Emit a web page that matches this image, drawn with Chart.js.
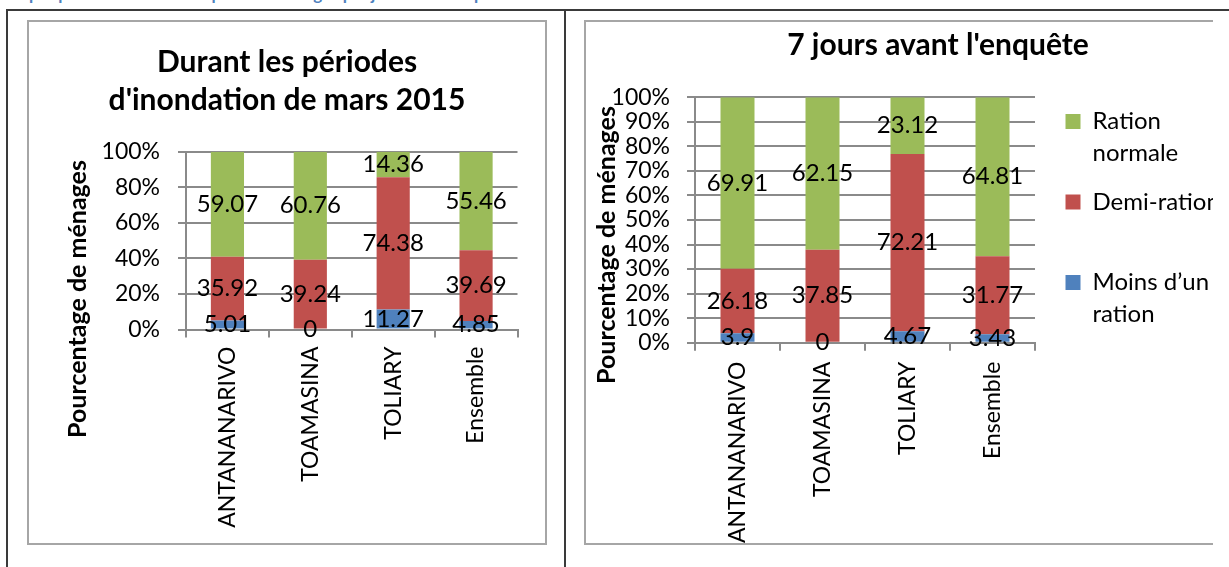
<!DOCTYPE html>
<html>
<head>
<meta charset="utf-8">
<script src="https://cdn.jsdelivr.net/npm/chart.js@4.4.1/dist/chart.umd.min.js"></script>
<style>
  html, body { margin: 0; padding: 0; background: #fff; }
  body { width: 1229px; height: 567px; overflow: hidden; position: relative; font-family: Lato, sans-serif; }
  .caption { position: absolute; left: 2px; top: -16px; font: bold 17px/1.2 Lato; color: #4F81BD; white-space: nowrap; }
  .hline { position: absolute; left: 6px; top: 9px; width: 1223px; height: 2px; background: #3a3a3a; }
  .vline { position: absolute; top: 9px; width: 2px; height: 558px; background: #3a3a3a; }
  #box1 { position: absolute; left: 27px; top: 20px; width: 520px; height: 525px; border: 2px solid #a6a6a6; box-sizing: border-box; }
  #box2 { position: absolute; left: 584px; top: 20px; width: 629px; height: 525px; border: 2px solid #a6a6a6; border-right: none; box-sizing: border-box; }
  #c1 { position: absolute; left: 28px; top: 21px; }
  #wrap2 { position: absolute; left: 585px; top: 21px; width: 628px; height: 523px; overflow: hidden; }
  #c2 { position: absolute; left: 0; top: 0; }
</style>
</head>
<body>
<div class="caption">Graphique 9 : Nombre de repas des ménages par jour selon les périodes</div>
<div class="hline"></div>
<div class="vline" style="left:6px"></div>
<div class="vline" style="left:564px"></div>
<div id="box1"></div>
<div id="box2"></div>
<canvas id="c1" width="518" height="523"></canvas>
<div id="wrap2"><canvas id="c2" width="706" height="523"></canvas></div>
<script>
var categories = ["ANTANANARIVO", "TOAMASINA", "TOLIARY", "Ensemble"];
var seriesNames = ["Moins d\u2019un ration", "Demi-ration", "Ration normale"];
var legendLines = [["Moins d\u2019un", "ration"], ["Demi-ration", ""], ["Ration", "normale"]];
var seriesColors = ["#4F81BD", "#C0504D", "#9BBB59"];

// Durant les périodes d'inondation de mars 2015
var moinsInondation = [5.01, 0, 11.27, 4.85];
var demiInondation = [35.92, 39.24, 74.38, 39.69];
var normaleInondation = [59.07, 60.76, 14.36, 55.46];

// 7 jours avant l'enquête
var moins7Jours = [3.9, 0, 4.67, 3.43];
var demi7Jours = [26.18, 37.85, 72.21, 31.77];
var normale7Jours = [69.91, 62.15, 23.12, 64.81];

var yStepInondation = 20;
var yStep7Jours = 10;

var gridColor = "#8a8a8a";

// values written in the middle of each segment
var valueLabels = {
  id: "valueLabels",
  afterDatasetsDraw: function (chart) {
    var ctx = chart.ctx;
    ctx.save();
    ctx.font = "24px Lato";
    ctx.fillStyle = "#000";
    ctx.textAlign = "center";
    ctx.textBaseline = "middle";
    chart.data.datasets.forEach(function (ds, i) {
      chart.getDatasetMeta(i).data.forEach(function (bar, j) {
        var p = bar.getProps(["x", "y", "base"], true);
        ctx.fillText(String(ds.data[j]), p.x, (p.y + p.base) / 2);
      });
    });
    ctx.restore();
  }
};

// rotated y axis title
var sideTitle = {
  id: "sideTitle",
  afterDraw: function (chart, args, opts) {
    if (!opts.text) return;
    var ctx = chart.ctx;
    ctx.save();
    ctx.translate(opts.x, opts.y);
    ctx.rotate(-Math.PI / 2);
    ctx.font = "bold 25px Lato";
    ctx.fillStyle = "#000";
    ctx.textAlign = "center";
    ctx.textBaseline = "middle";
    ctx.fillText(opts.text, 0, 0);
    ctx.restore();
  }
};

var legendSpot = {
  id: "legendSpot",
  afterLayout: function (chart, args, opts) {
    if (!chart.legend || opts.left == null) return;
    chart.legend.left = opts.left;
    chart.legend.right = chart.width;
    chart.legend.top = opts.top;
  }
};

function buildChart(id, o) {
  var scales = {
    x: {
      stacked: true,
      grid: { offset: true, drawOnChartArea: false, drawTicks: true, tickLength: 8, color: gridColor, lineWidth: 2 },
      border: { color: gridColor, width: 2 },
      ticks: { minRotation: 90, maxRotation: 90, autoSkip: false, padding: o.xPad, color: "#000", font: { family: "Lato", size: 23 } },
      afterFit: function (s) { s.height = o.xHeight; }
    },
    y: {
      stacked: true,
      min: 0,
      max: 100,
      ticks: {
        stepSize: o.step, autoSkip: false, padding: o.yPad, color: "#000",
        font: { family: "Lato", size: 23 },
        callback: function (v) { return v + "%"; }
      },
      grid: { color: gridColor, lineWidth: 2, tickLength: 8 },
      border: { color: gridColor, width: 2 },
      afterFit: function (s) { s.width = o.yWidth; }
    }
  };
  if (o.legendRoom) {
    scales.legendRoom = {
      type: "linear", position: "right", display: true,
      ticks: { display: false }, grid: { display: false }, border: { display: false },
      afterFit: function (s) { s.width = o.legendRoom; }
    };
  }
  return new Chart(document.getElementById(id), {
    type: "bar",
    data: {
      labels: categories,
      datasets: [
        { label: seriesNames[0], data: o.series[0], backgroundColor: seriesColors[0] },
        { label: seriesNames[1], data: o.series[1], backgroundColor: seriesColors[1] },
        { label: seriesNames[2], data: o.series[2], backgroundColor: seriesColors[2] }
      ]
    },
    options: {
      responsive: false,
      animation: false,
      devicePixelRatio: 1,
      layout: { padding: o.padding },
      datasets: { bar: { barPercentage: 0.4, categoryPercentage: 1 } },
      scales: scales,
      plugins: {
        title: {
          display: true,
          text: o.title,
          color: "#000",
          font: { family: "Lato", size: 30, weight: "bold", lineHeight: 38.5 / 30 },
          padding: { top: o.titleTop, bottom: o.titleBottom }
        },
        legend: o.legend ? {
          display: true,
          position: "right",
          align: "start",
          reverse: true,
          maxWidth: 100,
          labels: {
            boxWidth: 15,
            boxHeight: 15,
            padding: 16.5,
            color: "#000",
            font: { family: "Lato", size: 24, lineHeight: 32 / 24 },
            generateLabels: function (chart) {
              var items = Chart.defaults.plugins.legend.labels.generateLabels(chart);
              items.forEach(function (it) { it.text = legendLines[it.datasetIndex]; });
              return items;
            }
          }
        } : { display: false },
        tooltip: { enabled: false },
        sideTitle: { text: "Pourcentage de ménages", x: o.sideX, y: o.sideY },
        legendSpot: o.legend ? { left: o.legendLeft, top: o.legendTop } : {}
      }
    },
    plugins: [valueLabels, sideTitle, legendSpot]
  });
}

buildChart("c1", {
  title: ["Durant les périodes", "d'inondation de mars 2015"],
  series: [moinsInondation, demiInondation, normaleInondation],
  step: yStepInondation,
  padding: { left: 28.5, right: 28.5, top: 0, bottom: 0 },
  yWidth: 129.5,
  yPad: 18,
  xHeight: 214.5,
  xPad: 9,
  titleTop: 21.75,
  titleBottom: 32,
  sideX: 50,
  sideY: 278,
  legend: false
});

buildChart("c2", {
  title: "7 jours avant l'enquête",
  series: [moins7Jours, demi7Jours, normale7Jours],
  step: yStep7Jours,
  padding: { left: 0, right: 0, top: 0, bottom: 0 },
  yWidth: 110,
  yPad: 17,
  xHeight: 201.3,
  xPad: 11,
  titleTop: 4.75,
  titleBottom: 33,
  sideX: 22,
  sideY: 224,
  legend: true,
  legendRoom: 156,
  legendLeft: 464,
  legendTop: 72
});
</script>
</body>
</html>
